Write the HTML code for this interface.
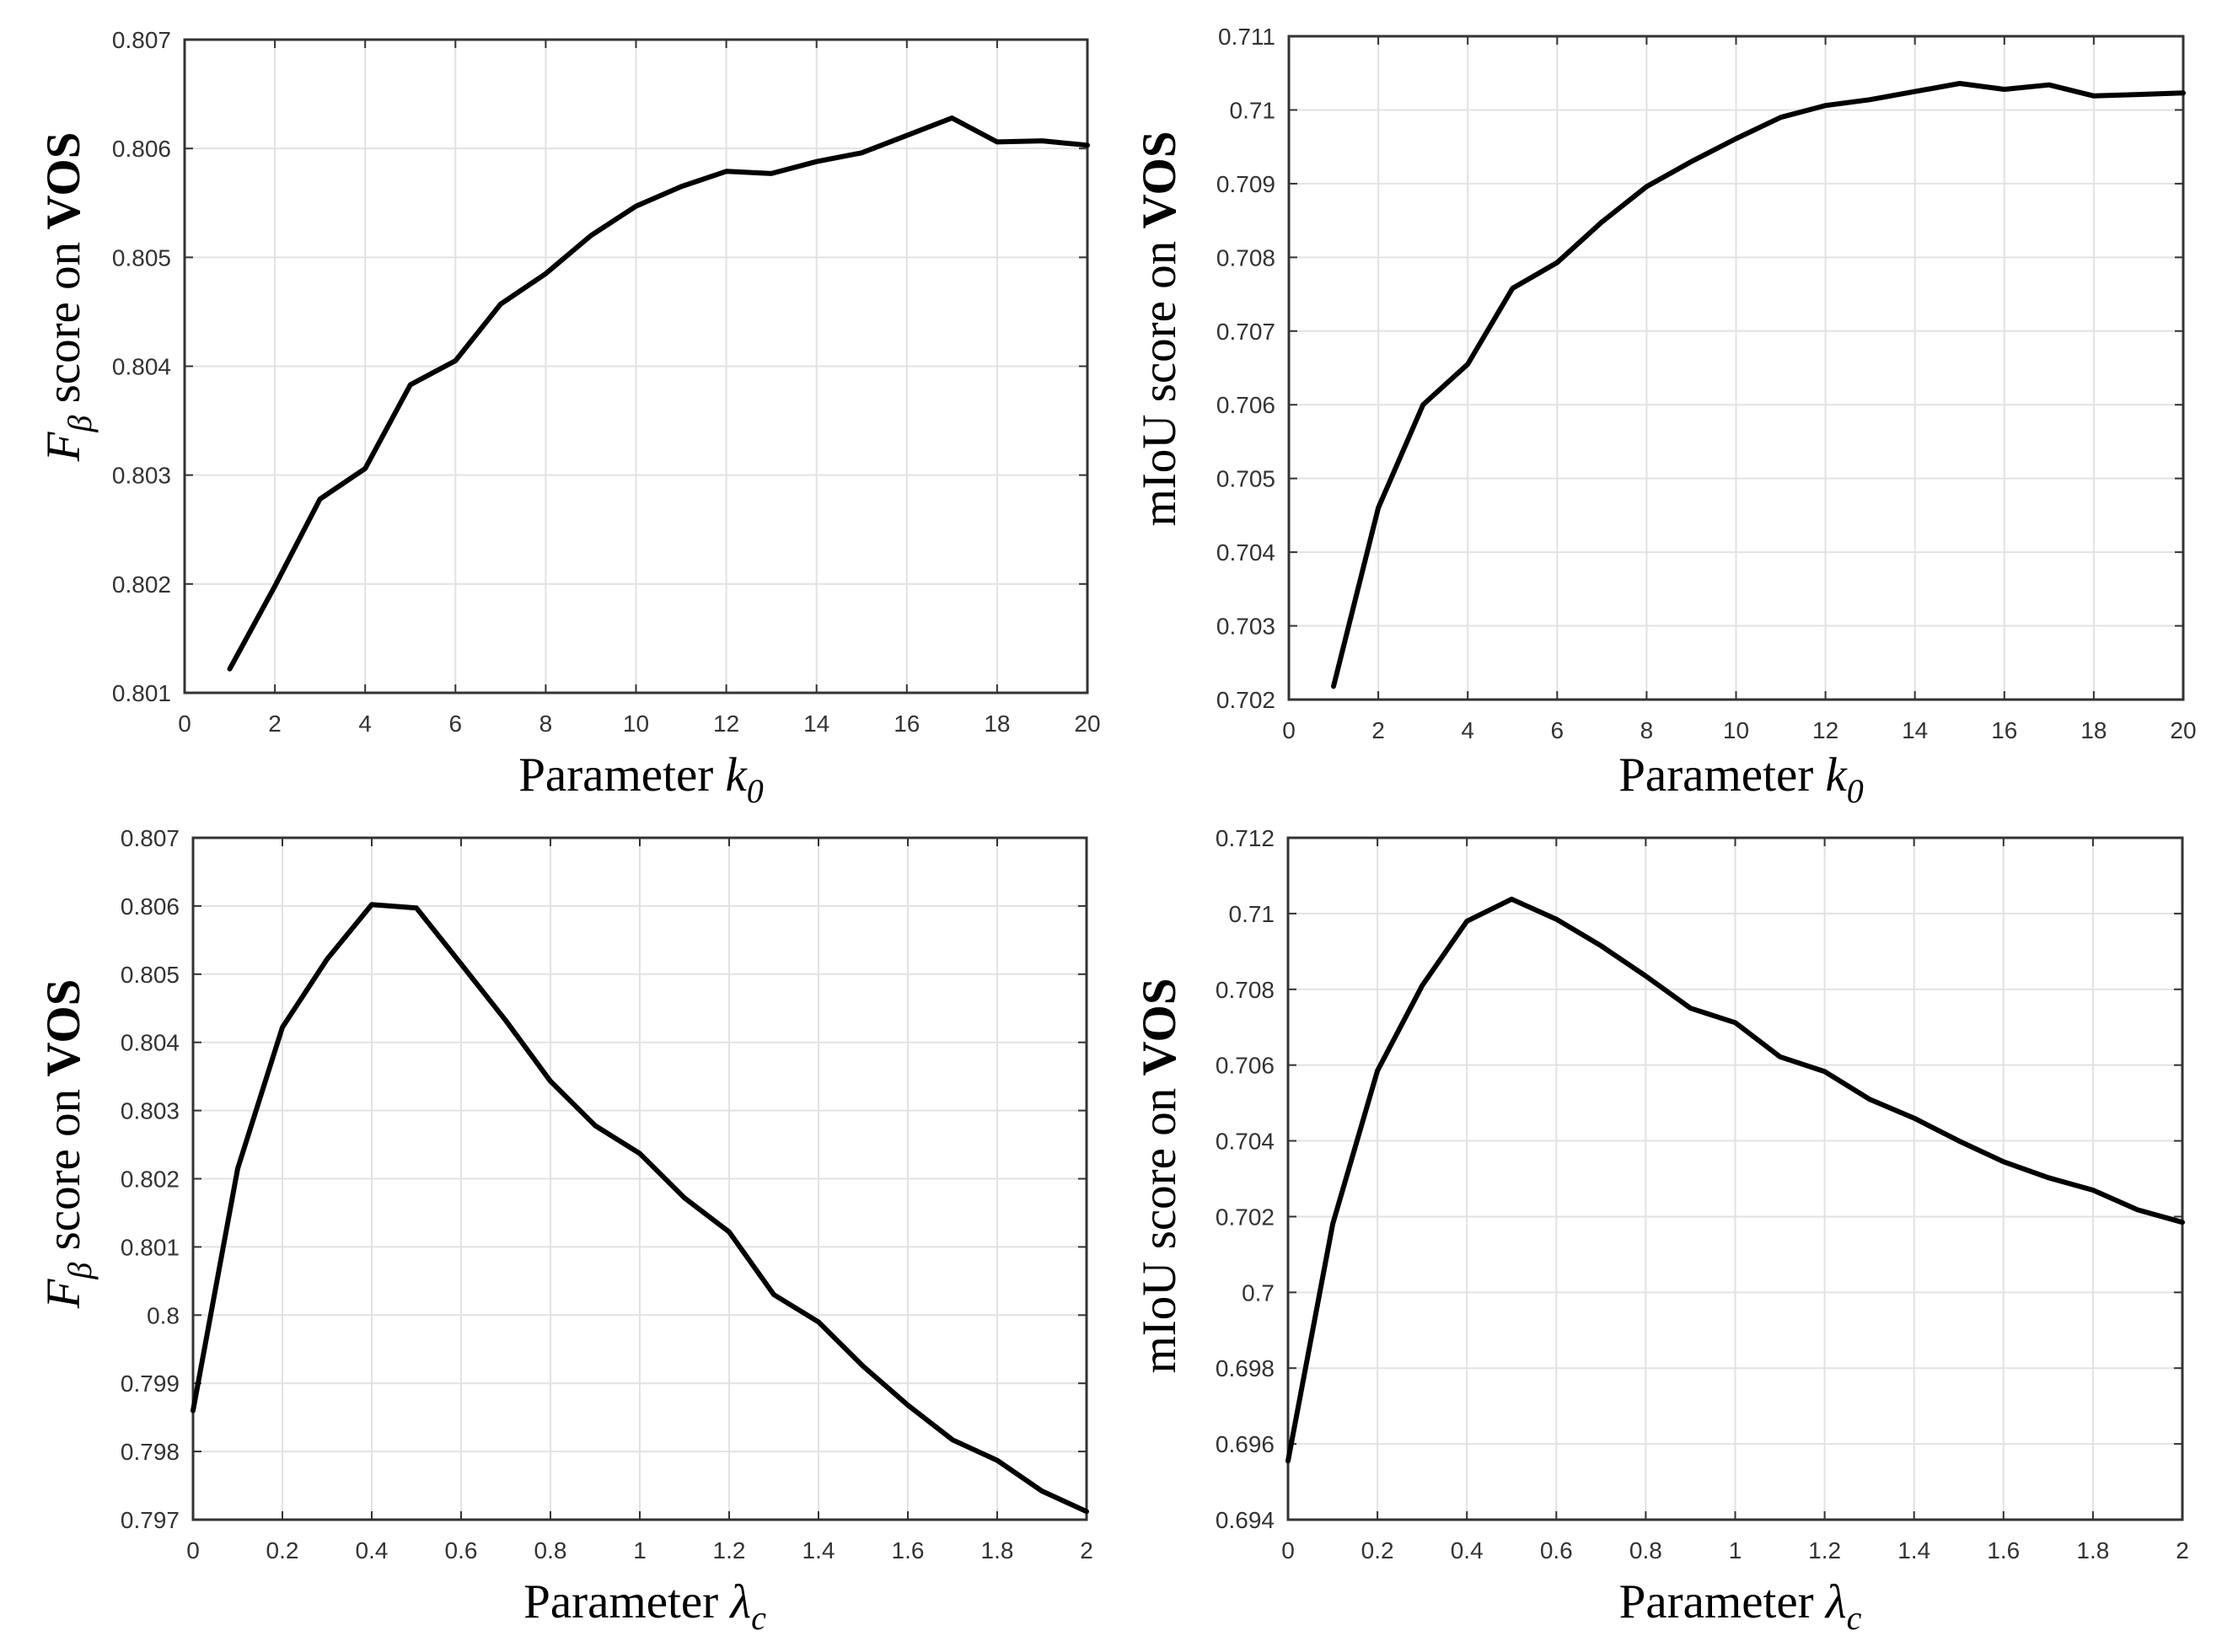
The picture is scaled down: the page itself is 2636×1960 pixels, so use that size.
<!DOCTYPE html>
<html><head><meta charset="utf-8"><style>
html,body{margin:0;padding:0;background:#fff;}
svg{display:block;}
.tk{font-family:"Liberation Sans",sans-serif;font-size:28px;fill:#333;}
.lab{font-family:"Liberation Serif",serif;font-size:57px;fill:#000;}
</style></head><body>
<svg id="fig" width="2636" height="1960" viewBox="0 0 2636 1960" xmlns="http://www.w3.org/2000/svg"></svg>
<script>
// ---- data ----
const k0X = [1,2,3,4,5,6,7,8,9,10,11,12,13,14,15,16,17,18,19,20];
const fbK0 = [0.80122,0.80198,0.80278,0.80306,0.80383,0.80405,0.80457,0.80485,0.80520,0.80547,0.80565,0.80579,0.80577,0.80588,0.80596,0.80612,0.80628,0.80606,0.80607,0.80603];
const miouK0 = [0.70218,0.70460,0.70600,0.70655,0.70758,0.70793,0.70848,0.70896,0.70930,0.70961,0.70990,0.71006,0.71014,0.71025,0.71036,0.71028,0.71034,0.71019,0.71021,0.71023];
const lamX = [0,0.1,0.2,0.3,0.4,0.5,0.6,0.7,0.8,0.9,1.0,1.1,1.2,1.3,1.4,1.5,1.6,1.7,1.8,1.9,2.0];
const fbLam = [0.79860,0.80215,0.80422,0.80522,0.80602,0.80597,0.80515,0.80432,0.80343,0.80278,0.80237,0.80172,0.80122,0.80030,0.79990,0.79925,0.79868,0.79817,0.79787,0.79742,0.79712];
const miouLam = [0.69555,0.70180,0.70585,0.70810,0.70980,0.71038,0.70985,0.70915,0.70835,0.70750,0.70712,0.70622,0.70583,0.70510,0.70460,0.70400,0.70345,0.70303,0.70270,0.70218,0.70185];
const k0Ticks = [0,2,4,6,8,10,12,14,16,18,20];
const k0TickLabels = ["0","2","4","6","8","10","12","14","16","18","20"];
const lamTicks = [0,0.2,0.4,0.6,0.8,1,1.2,1.4,1.6,1.8,2];
const lamTickLabels = ["0","0.2","0.4","0.6","0.8","1","1.2","1.4","1.6","1.8","2"];
const fbK0YTicks = [0.801,0.802,0.803,0.804,0.805,0.806,0.807];
const fbK0YLabels = ["0.801","0.802","0.803","0.804","0.805","0.806","0.807"];
const miouK0YTicks = [0.702,0.703,0.704,0.705,0.706,0.707,0.708,0.709,0.710,0.711];
const miouK0YLabels = ["0.702","0.703","0.704","0.705","0.706","0.707","0.708","0.709","0.71","0.711"];
const fbLamYTicks = [0.797,0.798,0.799,0.800,0.801,0.802,0.803,0.804,0.805,0.806,0.807];
const fbLamYLabels = ["0.797","0.798","0.799","0.8","0.801","0.802","0.803","0.804","0.805","0.806","0.807"];
const miouLamYTicks = [0.694,0.696,0.698,0.700,0.702,0.704,0.706,0.708,0.710,0.712];
const miouLamYLabels = ["0.694","0.696","0.698","0.7","0.702","0.704","0.706","0.708","0.71","0.712"];

const NS = "http://www.w3.org/2000/svg";
const svg = document.getElementById('fig');
function mk(tag, attrs, parent){
  const e = document.createElementNS(NS, tag);
  for (const k in attrs) e.setAttribute(k, attrs[k]);
  (parent||svg).appendChild(e);
  return e;
}

function panel(o){
  const g = mk('g', {});
  
  
  const sx = v => o.L + (v - o.xmin) / (o.xmax - o.xmin) * (o.R - o.L);
  const sy = v => o.B - (v - o.ymin) / (o.ymax - o.ymin) * (o.B - o.T);
  o.xt.forEach((t,i) => {
    const x = sx(t);
    if (i>0 && i<o.xt.length-1) {
      const gl = mk('line', {x1:x,y1:o.T,x2:x,y2:o.B,stroke:'#e2e2e2','stroke-width':2}, g);
      
      
    }
    mk('line', {x1:x,y1:o.B,x2:x,y2:o.B-10,stroke:'#333','stroke-width':2}, g);
    mk('line', {x1:x,y1:o.T,x2:x,y2:o.T+10,stroke:'#333','stroke-width':2}, g);
    const tx = mk('text', {x:x,y:o.B+46,'text-anchor':'middle','class':'tk'}, g);
    tx.textContent = o.xl[i];
    
    
  });
  o.yt.forEach((t,i) => {
    const y = sy(t);
    if (i>0 && i<o.yt.length-1) {
      const gl = mk('line', {x1:o.L,y1:y,x2:o.R,y2:y,stroke:'#e2e2e2','stroke-width':2}, g);
      
      
    }
    mk('line', {x1:o.L,y1:y,x2:o.L+10,y2:y,stroke:'#333','stroke-width':2}, g);
    mk('line', {x1:o.R,y1:y,x2:o.R-10,y2:y,stroke:'#333','stroke-width':2}, g);
    const tx = mk('text', {x:o.L-16,y:y+10,'text-anchor':'end','class':'tk'}, g);
    tx.textContent = o.yl[i];
    
    
  });
  const box = mk('rect', {x:o.L,y:o.T,width:o.R-o.L,height:o.B-o.T,fill:'none',stroke:'#333','stroke-width':3}, g);
  
  
  const pts = o.xs.map((x,i) => sx(x).toFixed(1)+','+sy(o.ys[i]).toFixed(1)).join(' ');
  const pl = mk('polyline', {points:pts,fill:'none',stroke:'#000','stroke-width':6,'stroke-linejoin':'round','stroke-linecap':'round'}, g);
  
  
  const yl = mk('text', {'class':'lab','text-anchor':'middle',transform:'translate('+o.ylx+','+o.ylc+') rotate(-90)'}, g);
  
  
  yl.innerHTML = o.ylabel;
  const xl = mk('text', {'class':'lab','text-anchor':'middle',x:(o.L+o.R)/2+6,y:(o.xly||o.B+116)}, g);
  
  
  xl.innerHTML = o.xlabel;
}

const fbLabel = '<tspan font-style="italic">F</tspan><tspan font-style="italic" font-size="40" dy="14">β</tspan><tspan dy="-14"> score on </tspan><tspan font-weight="bold">VOS</tspan>';
const miouLabel = 'mIoU score on <tspan font-weight="bold">VOS</tspan>';
const k0Label = 'Parameter <tspan font-style="italic">k</tspan><tspan font-style="italic" font-size="40" dy="14">0</tspan>';
const lamLabel = 'Parameter <tspan font-style="italic">λ</tspan><tspan font-style="italic" font-size="40" dy="14">c</tspan>';

panel({name:'panel-fbeta-k0',L:219,R:1290,T:47,B:822,xmin:0,xmax:20,ymin:0.801,ymax:0.807,xs:k0X,ys:fbK0,xt:k0Ticks,xl:k0TickLabels,yt:fbK0YTicks,yl:fbK0YLabels,ylabel:fbLabel,xlabel:k0Label,ylx:94,ylc:352});
panel({name:'panel-miou-k0',L:1529,R:2590,T:43,B:830,xmin:0,xmax:20,ymin:0.702,ymax:0.711,xs:k0X,ys:miouK0,xt:k0Ticks,xl:k0TickLabels,yt:miouK0YTicks,yl:miouK0YLabels,ylabel:miouLabel,xlabel:k0Label,ylx:1394,ylc:390,xly:938});
panel({name:'panel-fbeta-lambda',L:229,R:1289,T:994,B:1803,xmin:0,xmax:2,ymin:0.797,ymax:0.807,xs:lamX,ys:fbLam,xt:lamTicks,xl:lamTickLabels,yt:fbLamYTicks,yl:fbLamYLabels,ylabel:fbLabel,xlabel:lamLabel,ylx:94,ylc:1357});
panel({name:'panel-miou-lambda',L:1528,R:2589,T:994,B:1803,xmin:0,xmax:2,ymin:0.694,ymax:0.712,xs:lamX,ys:miouLam,xt:lamTicks,xl:lamTickLabels,yt:miouLamYTicks,yl:miouLamYLabels,ylabel:miouLabel,xlabel:lamLabel,ylx:1394,ylc:1395});
</script>
</body></html>
